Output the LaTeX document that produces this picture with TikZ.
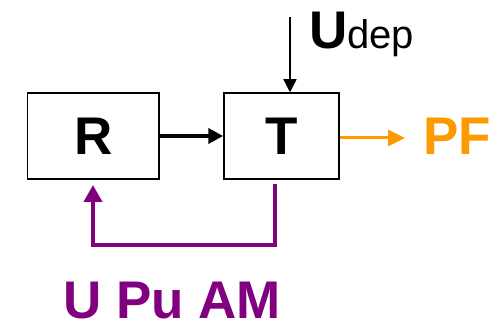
\documentclass[tikz,border=0pt]{standalone}
\usepackage{fontspec}
\setmainfont{Liberation Sans}
\usetikzlibrary{arrows.meta}
\definecolor{pforange}{HTML}{FF9900}
\definecolor{fbpurple}{HTML}{800080}
\begin{document}
\begin{tikzpicture}[x=1pt,y=-1pt,
  blockbox/.style={draw, line width=1.5pt, inner sep=0pt, font=\fontsize{53}{53}\selectfont\bfseries},
  bigtext/.style={inner sep=0pt, anchor=base west, font=\fontsize{53}{53}\selectfont\bfseries},
  mainarrow/.style={line width=4pt, -{Triangle[length=15pt,width=15pt]}},
  thinarrow/.style={line width=1.5pt, -{Triangle[length=13pt,width=13pt]}},
  outarrow/.style={pforange, line width=3pt, -{Triangle[length=17pt,width=16pt]}},
  fbarrow/.style={fbpurple, line width=4pt, -{Triangle[length=17pt,width=18pt]}}]
\useasboundingbox (0,0) rectangle (498,323);
\node[blockbox, minimum width=131.5pt, minimum height=86pt] (R) at (93.25,136) {R};
\node[blockbox, minimum width=115pt, minimum height=86pt] (T) at (281.5,136) {T};
\draw[mainarrow] (R.east) -- (T.west);
\coordinate (udtop) at (290,17);
\draw[thinarrow] (udtop) -- (udtop |- T.north);
\node[bigtext] (udep) at (309,49) {U{\fontsize{40}{40}\selectfont\mdseries dep}};
\coordinate (pfend) at (405,138);
\draw[outarrow] (T.east |- pfend) -- (pfend);
\node[bigtext, text=pforange] (PF) at (423,155) {PF};
\coordinate (fbstart) at (275,184);
\coordinate (fbcorner) at (93,245);
\coordinate (fbend) at (93,185);
\draw[fbarrow] (fbstart) |- (fbcorner) -- (fbend);
\node[bigtext, text=fbpurple] (upuam) at (63,318) {U Pu AM};
\end{tikzpicture}
\end{document}
